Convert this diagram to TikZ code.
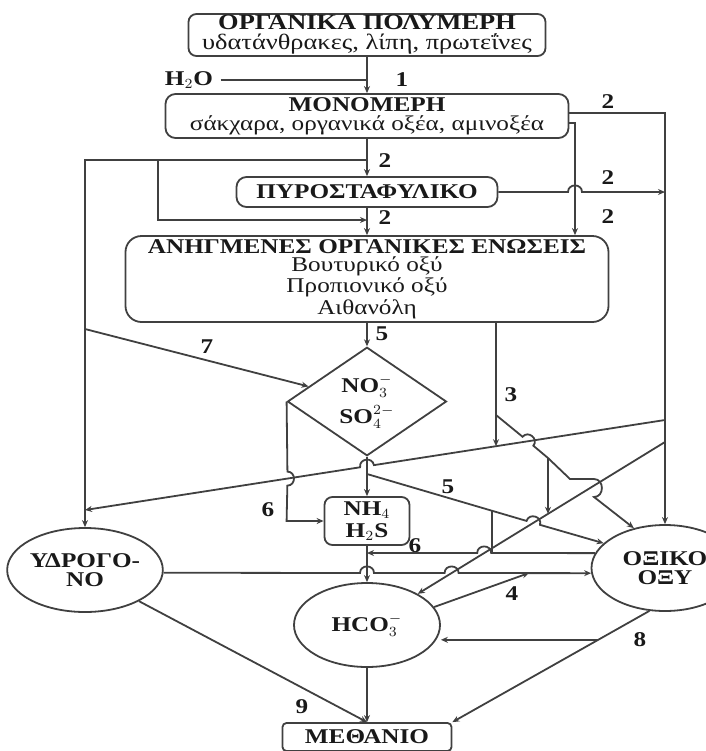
\documentclass[tikz,border=0pt]{standalone}
\usepackage{fontspec}
\setmainfont{Liberation Serif}[FakeStretch=1.2]
\usetikzlibrary{arrows.meta,shapes.geometric,calc}

% a line hopping over a crossing line: {side}{from}{crossing}{to}
\newcommand{\linehop}[4]{%
  -- ($(#3)!3.5pt!(#2)$) to[bend #1=90,looseness=1.6] ($(#3)!3.5pt!(#4)$)}

\begin{document}
\begin{tikzpicture}[x=0.5pt,y=0.5pt,line width=0.9pt,color=black!75,
    every node/.style={text=black!90,font=\fontsize{10.5}{9.5}\selectfont},
    box/.style={draw,rounded corners=5pt,inner sep=0pt,align=center},
    oval/.style={draw,ellipse,inner sep=0pt,align=center},
    num/.style={font=\fontsize{10.5}{9.5}\selectfont\bfseries},
    flow/.style={-{Stealth[length=3.5pt,width=3pt]}}]
  \clip (0,0) rectangle (706,-751);

  % boxes and ovals
  \node[box,rounded corners=4pt,minimum width=178.5pt,minimum height=21pt,
    font=\fontsize{11}{10}\selectfont] (poly) at (367,-35)
    {\textbf{ΟΡΓΑΝΙΚΑ ΠΟΛΥΜΕΡΗ}\\υδατάνθρακες, λίπη, πρωτεΐνες};
  \node[box,minimum width=201.5pt,minimum height=22pt] (mono) at (367,-116)
    {\textbf{ΜΟΝΟΜΕΡΗ}\\σάκχαρα, οργανικά οξέα, αμινοξέα};
  \node[box,minimum width=130.5pt,minimum height=15pt] (pyro) at (367,-192) {\textbf{ΠΥΡΟΣΤΑΦΥΛΙΚΟ}};
  \node[box,rounded corners=8pt,minimum width=241.5pt,minimum height=43pt,
    font=\fontsize{10.5}{9.2}\selectfont] (anig) at (367,-279)
    {\textbf{ΑΝΗΓΜΕΝΕΣ ΟΡΓΑΝΙΚΕΣ ΕΝΩΣΕΙΣ}\\Βουτυρικό οξύ\\Προπιονικό οξύ\\Αιθανόλη};
  \node[draw,diamond,inner sep=0pt,minimum width=79.5pt,minimum height=46.5pt,align=center] (dia) at (367,-401.5)
    {\textbf{NO$_3^-$}\\[3pt]\textbf{SO$_4^{2-}$}};
  \node[box,rounded corners=4pt,minimum width=42.5pt,minimum height=24pt] (nh4) at (367,-521)
    {\textbf{NH$_4$}\\[1.5pt]\textbf{H$_2$S}};
  \node[oval,minimum width=73.5pt,minimum height=42pt] (ydro) at (85,-570) {\textbf{ΥΔΡΟΓΟ-}\\\textbf{ΝΟ}};
  \node[oval,minimum width=73pt,minimum height=42pt] (hco) at (367,-625) {\textbf{HCO$_3^-$}};
  \node[oval,minimum width=73.5pt,minimum height=43pt] (oxy) at (665,-568) {\textbf{ΟΞΙΚΟ}\\\textbf{ΟΞΥ}};
  \node[box,rounded corners=2pt,minimum width=84.5pt,minimum height=14pt] (meth) at (367,-737) {\textbf{ΜΕΘΑΝΙΟ}};

  % numbers
  \node[num] (h2o) at (189,-80) {H$_2$O};
  \node[num] (n1) at (402,-80) {1};
  \node[num] (n2a) at (385,-161) {2};
  \node[num] (n2b) at (385,-218) {2};
  \node[num] (n2c) at (608,-102) {2};
  \node[num] (n2d) at (608,-178) {2};
  \node[num] (n2e) at (608,-217) {2};
  \node[num] (n5a) at (382,-334) {5};
  \node[num] (n7) at (207,-347) {7};
  \node[num] (n3) at (511,-395) {3};
  \node[num] (n5b) at (448,-487) {5};
  \node[num] (n6a) at (268,-510) {6};
  \node[num] (n6b) at (415,-546) {6};
  \node[num] (n4) at (512,-594) {4};
  \node[num] (n8) at (640,-640) {8};
  \node[num] (n9) at (302,-707) {9};

  % junctions
  \coordinate (jl) at (367,-160);
  \coordinate (r1) at (665,-420);
  \coordinate (l1) at (85,-510);
  \coordinate (r2) at (665,-442);
  \coordinate (t3) at (496,-415);
  \coordinate (k3) at (548,-458);
  \coordinate (t5) at (367,-474);
  \coordinate (c6) at (367,-553);
  \coordinate (b6) at (dia.west |- nh4.west);

  % upper part
  \draw (h2o.east) -- (367,-80);
  \draw[flow] (poly) -- (mono);
  \draw[flow] (mono) -- (pyro);
  \draw[flow] (pyro) -- (anig);
  \draw[flow] (jl) -- (85,-160) -- (ydro);
  \draw[flow] (158,-160) -- (158,-220) -- (367,-220);
  \draw[flow] (mono.east |- 0,-123) -- (575,-123) -- (anig.north -| 575,0);
  \draw[flow] (mono.east |- 0,-113) -- (665,-113) -- (oxy);
  \draw[flow] (pyro.east) \linehop{left}{pyro.east}{575,-192}{665,-192} -- (665,-192);
  \draw[flow] (anig) -- (dia);
  \draw[flow] (85,-329) -- (dia);

  % middle part
  \draw[flow] (r1) \linehop{right}{r1}{367,-466.2}{l1} -- (l1);
  \draw[flow] (anig.south -| 496,0) -- (496,-446.2);
  \draw[flow] (t3) \linehop{left}{t3}{528,-441.2}{k3} -- (k3) -- (570,-479) -- (594,-479)
    to[bend left=90,looseness=1.5] (594,-497) -- (oxy.128);
  \draw[flow] (k3) -- (548,-513.8);
  \draw[flow] (r2) -- (hco);
  \draw[flow] (dia) -- (nh4);
  \draw[flow] (dia.west) \linehop{left}{dia.west}{287.5,-478.6}{b6} -- (b6) -- (nh4.west);
  \draw[flow] (t5) \linehop{left}{t5}{533.3,-522.9}{oxy.158} -- (oxy.158);
  \draw (492,-510.7) -- (492,-553);
  \draw[flow] (oxy.168) \linehop{right}{oxy.168}{484.2,-553}{c6} -- (c6);
  \draw[flow] (nh4) -- (hco);

  % lower part
  \draw[flow] (ydro.-2) \linehop{left}{ydro.-2}{367,-573}{oxy.184}
    \linehop{left}{367,-573}{451.6,-573}{oxy.184} -- (oxy.184);
  \draw[flow] (hco.15) -- (529,-573);
  \draw[flow] (oxy.250) -- coordinate[pos=0.26] (c8) (meth.north east);
  \draw[flow] (c8) -- (c8 -| hco.east);
  \draw[flow] (ydro.-30) -- (meth.north);
  \draw[flow] (hco) -- (meth);
\end{tikzpicture}
\end{document}
